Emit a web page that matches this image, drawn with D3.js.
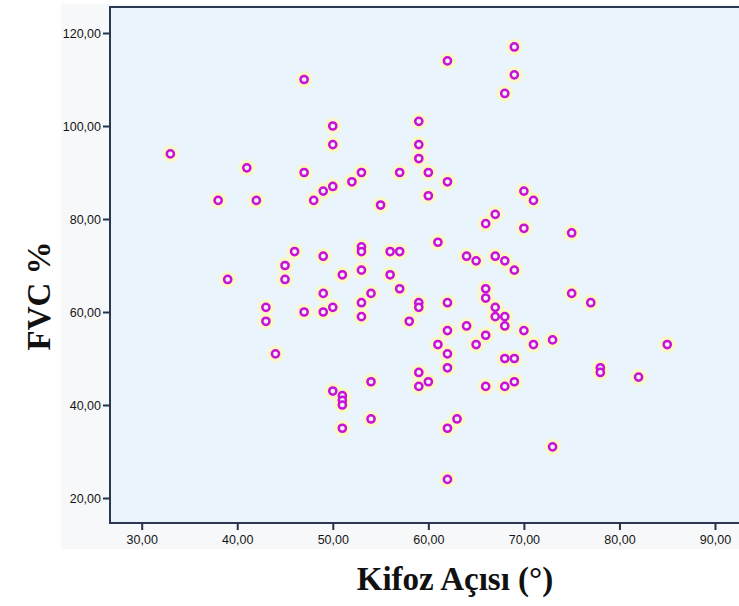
<!DOCTYPE html>
<html>
<head>
<meta charset="utf-8">
<script src="https://cdn.jsdelivr.net/npm/d3@7"></script>
<style>
  body { margin: 0; background: #fff; }
  .tick text { font-family: "Liberation Sans", Arial, sans-serif; font-size: 12.5px; fill: #151515; }
  .tick line { stroke: #263247; stroke-width: 2; }
  .title { font-family: "Liberation Serif", "Times New Roman", serif; font-weight: bold; font-size: 33px; fill: #111; }
</style>
</head>
<body>
<svg width="739" height="606"></svg>
<script>
// Kifoz açısı (x) vs FVC % (y)
var kifoz = [33, 38, 41, 47, 42, 48, 46, 45, 45, 39, 43, 43, 47, 50, 59, 59, 53, 52, 50, 49,
  57, 60, 62, 60, 55, 67, 66, 70, 71, 70, 61, 49, 53, 53, 56, 57, 64, 65, 67, 68,
  69, 51, 53, 56, 57, 49, 54, 53, 49, 50, 53, 59, 59, 62, 58, 66, 66, 67, 67, 68,
  68, 64, 62, 66, 75, 75, 77, 70, 73, 85, 61, 44, 59, 59, 60, 54, 50, 51, 51, 51,
  54, 51, 65, 62, 62, 71, 68, 69, 78, 78, 82, 66, 68, 69, 63, 62, 73, 62, 47, 62,
  69, 69, 68, 50, 59];
var fvc = [94, 84, 91, 90, 84, 84, 73, 70, 67, 67, 61, 58, 60, 96, 96, 93, 90, 88, 87, 86,
  90, 90, 88, 85, 83, 81, 79, 86, 84, 78, 75, 72, 74, 73, 73, 73, 72, 71, 72, 71,
  69, 68, 69, 68, 65, 64, 64, 62, 60, 61, 59, 62, 61, 62, 58, 65, 63, 61, 59, 59,
  57, 57, 56, 55, 77, 64, 62, 56, 54, 53, 53, 51, 47, 44, 45, 45, 43, 42, 41, 40,
  37, 35, 53, 51, 48, 53, 50, 50, 48, 47, 46, 44, 44, 45, 37, 35, 31, 24, 110, 114,
  117, 111, 107, 100, 101];
var xTicks = [30, 40, 50, 60, 70, 80, 90];
var yTicks = [20, 40, 60, 80, 100, 120];

var svg = d3.select('svg');
var frame = {left: 110, top: 7, right: 745, bottom: 523};

var x = d3.scaleLinear().domain([30, 90]).range([141.7, 715]);
var y = d3.scaleLinear().domain([20, 120]).range([498, 33]);
var fmt = function(d) { return d3.format('.2f')(d).replace('.', ','); };

// outer light panel
svg.append('rect')
  .attr('x', 61).attr('y', 4)
  .attr('width', 700).attr('height', 545)
  .attr('fill', '#f7f8f9');

// plot area
svg.append('rect')
  .attr('x', frame.left).attr('y', frame.top)
  .attr('width', frame.right - frame.left).attr('height', frame.bottom - frame.top)
  .attr('fill', '#eaf4fc')
  .attr('stroke', '#2b3850')
  .attr('stroke-width', 2);

var defs = svg.append('defs');
var grad = defs.append('radialGradient').attr('id', 'halo');
grad.append('stop').attr('offset', '0%').attr('stop-color', '#fcf6c2').attr('stop-opacity', 1);
grad.append('stop').attr('offset', '72%').attr('stop-color', '#fcf6c2').attr('stop-opacity', 0.95);
grad.append('stop').attr('offset', '100%').attr('stop-color', '#fcf6c2').attr('stop-opacity', 0);

var pts = svg.append('g');
var data = d3.zip(kifoz, fvc);

pts.selectAll('.halo')
  .data(data)
  .enter().append('circle')
  .attr('class', 'halo')
  .attr('cx', function(d) { return x(d[0]); })
  .attr('cy', function(d) { return y(d[1]); })
  .attr('r', 9.5)
  .attr('fill', 'url(#halo)');

pts.selectAll('.dot')
  .data(data)
  .enter().append('circle')
  .attr('class', 'dot')
  .attr('cx', function(d) { return x(d[0]); })
  .attr('cy', function(d) { return y(d[1]); })
  .attr('r', 3.6)
  .attr('fill', '#f4f0fa')
  .attr('stroke', '#c812d8')
  .attr('stroke-width', 2.5);

var gx = svg.append('g')
  .attr('transform', 'translate(0,' + frame.bottom + ')')
  .call(d3.axisBottom(x).tickValues(xTicks).tickFormat(fmt).tickSize(7).tickPadding(5));
gx.select('.domain').remove();

var gy = svg.append('g')
  .attr('transform', 'translate(' + frame.left + ',0)')
  .call(d3.axisLeft(y).tickValues(yTicks).tickFormat(fmt).tickSize(7).tickPadding(2));
gy.select('.domain').remove();

svg.append('text')
  .attr('class', 'title')
  .attr('transform', 'translate(50,296) rotate(-90)')
  .attr('text-anchor', 'middle')
  .text('FVC %');

svg.append('text')
  .attr('class', 'title')
  .attr('x', 455).attr('y', 590)
  .attr('text-anchor', 'middle')
  .text('Kifoz Açısı (°)');
</script>
</body>
</html>
